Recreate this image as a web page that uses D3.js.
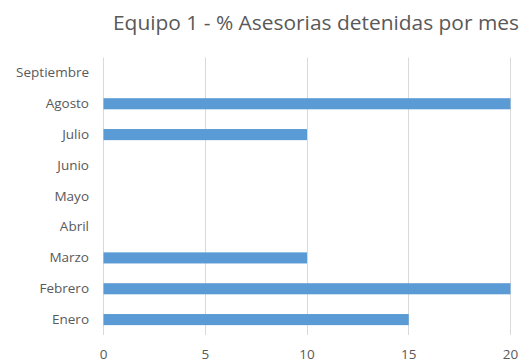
<!DOCTYPE html>
<html>
<head>
<meta charset="utf-8">
<script src="https://cdn.jsdelivr.net/npm/d3@7"></script>
<style>
  html, body { margin: 0; padding: 0; background: #fff; }
  svg { display: block; }
  text { font-family: "Open Sans", "Liberation Sans", sans-serif; fill: #595959; }
</style>
</head>
<body>
<svg id="chart" width="531" height="363"></svg>
<script>
const months = ["Enero", "Febrero", "Marzo", "Abril", "Mayo", "Junio", "Julio", "Agosto", "Septiembre"];
const values = [15, 20, 10, 0, 0, 0, 10, 20, 0];
const xTicks = [0, 5, 10, 15, 20];
const title = "Equipo 1 - % Asesorias detenidas por mes";

const FONT = "'Open Sans', 'Liberation Sans', sans-serif";
const svg = d3.select("#chart");
const plot = { left: 103, right: 510, top: 57.5, bottom: 335 };

const x = d3.scaleLinear().domain([0, 20]).range([plot.left, plot.right]);
const y = d3.scaleBand()
  .domain(months.slice().reverse())
  .range([plot.top, plot.bottom])
  .paddingInner(0.64)
  .paddingOuter(0.32);

// Title
svg.append("text")
  .attr("x", 113)
  .attr("y", 30)
  .attr("font-size", 19.5)
  .attr("textLength", 406)
  .attr("lengthAdjust", "spacingAndGlyphs")
  .style("font-family", FONT)
  .text(title);

// Vertical gridlines
svg.append("g")
  .selectAll("line")
  .data(xTicks)
  .join("line")
  .attr("x1", d => Math.round(x(d)) + 0.5)
  .attr("x2", d => Math.round(x(d)) + 0.5)
  .attr("y1", plot.top)
  .attr("y2", plot.bottom)
  .attr("stroke", "#d9d9d9")
  .attr("stroke-width", 1);

// Bars
svg.append("g")
  .selectAll("rect")
  .data(months.map((m, i) => ({ m, v: values[i] })))
  .join("rect")
  .attr("x", x(0) + 0.5)
  .attr("y", d => y(d.m))
  .attr("width", d => Math.max(0, x(d.v) - x(0)))
  .attr("height", y.bandwidth())
  .attr("fill", "#5b9bd5");

// Category axis (labels only)
const gy = svg.append("g")
  .attr("transform", `translate(${plot.left},0)`)
  .call(d3.axisLeft(y).tickSize(0).tickPadding(14));
gy.select(".domain").remove();
gy.selectAll("text")
  .attr("font-size", 13.5)
  .style("font-family", FONT)
  .attr("fill", "#595959");

// Value axis (labels only)
const gx = svg.append("g")
  .attr("transform", `translate(0,${plot.bottom})`)
  .call(d3.axisBottom(x).tickValues(xTicks).tickSize(0).tickPadding(14));
gx.select(".domain").remove();
gx.selectAll("text")
  .attr("font-size", 13.5)
  .style("font-family", FONT)
  .attr("fill", "#595959");
</script>
</body>
</html>
